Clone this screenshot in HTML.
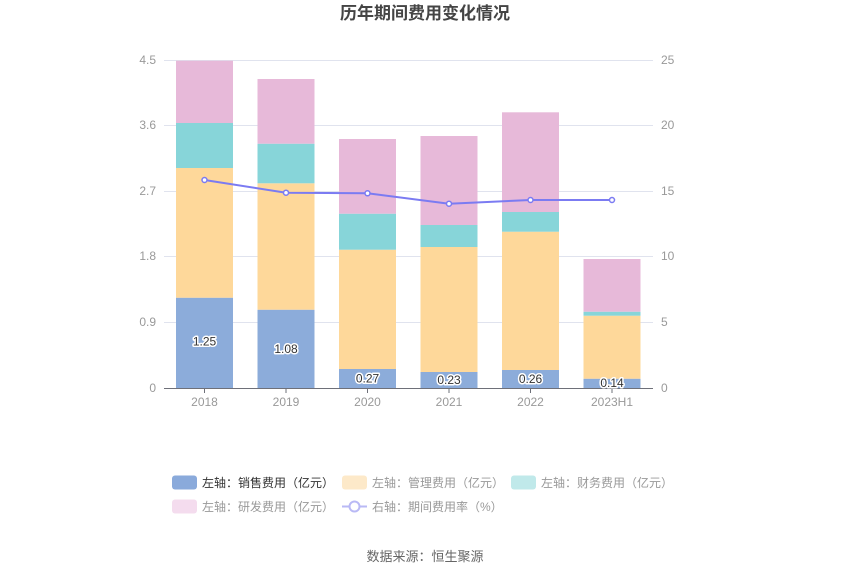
<!DOCTYPE html>
<html>
<head>
<meta charset="utf-8">
<style>
html,body{margin:0;padding:0;background:#fff;}
svg{display:block;}
text{font-family:"Liberation Sans","Noto Sans CJK SC",sans-serif;}
</style>
</head>
<body>
<svg width="850" height="575" viewBox="0 0 850 575" xmlns="http://www.w3.org/2000/svg">
<rect width="850" height="575" fill="#fff"/>
<text x="425" y="19" text-anchor="middle" font-size="17" font-weight="bold" fill="#444">历年期间费用变化情况</text>

<!-- grid -->
<g stroke="#e0e3ee" stroke-width="1">
<line x1="164" y1="60.5" x2="653" y2="60.5"/>
<line x1="164" y1="125.5" x2="653" y2="125.5"/>
<line x1="164" y1="191.5" x2="653" y2="191.5"/>
<line x1="164" y1="256.5" x2="653" y2="256.5"/>
<line x1="164" y1="322.5" x2="653" y2="322.5"/>
</g>

<!-- left labels -->
<g font-size="12" fill="#999" text-anchor="end">
<text x="156" y="64">4.5</text>
<text x="156" y="129">3.6</text>
<text x="156" y="195">2.7</text>
<text x="156" y="260">1.8</text>
<text x="156" y="326">0.9</text>
<text x="156" y="392">0</text>
</g>
<!-- right labels -->
<g font-size="12" fill="#999" text-anchor="start">
<text x="661" y="64">25</text>
<text x="661" y="129">20</text>
<text x="661" y="195">15</text>
<text x="661" y="260">10</text>
<text x="661" y="326">5</text>
<text x="661" y="392">0</text>
</g>

<!-- bars -->
<g>
<!-- 2018 -->
<rect x="176" y="297.7" width="57" height="90.3" fill="#8cacda"/>
<rect x="176" y="168" width="57" height="129.7" fill="#fed89a"/>
<rect x="176" y="123" width="57" height="45" fill="#87d5d9"/>
<rect x="176" y="60.7" width="57" height="62.3" fill="#e7b9d9"/>
<!-- 2019 -->
<rect x="257.5" y="309.7" width="57" height="78.3" fill="#8cacda"/>
<rect x="257.5" y="183.3" width="57" height="126.4" fill="#fed89a"/>
<rect x="257.5" y="143.7" width="57" height="39.6" fill="#87d5d9"/>
<rect x="257.5" y="79" width="57" height="64.7" fill="#e7b9d9"/>
<!-- 2020 -->
<rect x="339" y="369" width="57" height="19" fill="#8cacda"/>
<rect x="339" y="249.7" width="57" height="119.3" fill="#fed89a"/>
<rect x="339" y="213.7" width="57" height="36" fill="#87d5d9"/>
<rect x="339" y="139" width="57" height="74.7" fill="#e7b9d9"/>
<!-- 2021 -->
<rect x="420.5" y="372" width="57" height="16" fill="#8cacda"/>
<rect x="420.5" y="247" width="57" height="125" fill="#fed89a"/>
<rect x="420.5" y="225" width="57" height="22" fill="#87d5d9"/>
<rect x="420.5" y="136" width="57" height="89" fill="#e7b9d9"/>
<!-- 2022 -->
<rect x="502" y="370" width="57" height="18" fill="#8cacda"/>
<rect x="502" y="231.7" width="57" height="138.3" fill="#fed89a"/>
<rect x="502" y="212" width="57" height="19.7" fill="#87d5d9"/>
<rect x="502" y="112.3" width="57" height="99.7" fill="#e7b9d9"/>
<!-- 2023H1 -->
<rect x="583.5" y="378.7" width="57" height="9.3" fill="#8cacda"/>
<rect x="583.5" y="315.7" width="57" height="63" fill="#fed89a"/>
<rect x="583.5" y="311.7" width="57" height="4" fill="#87d5d9"/>
<rect x="583.5" y="259" width="57" height="52.7" fill="#e7b9d9"/>
</g>

<!-- axis -->
<line x1="164" y1="388.5" x2="653" y2="388.5" stroke="#6e7079" stroke-width="1"/>
<g stroke="#6e7079" stroke-width="1">
<line x1="204.5" y1="388" x2="204.5" y2="393"/>
<line x1="286" y1="388" x2="286" y2="393"/>
<line x1="367.5" y1="388" x2="367.5" y2="393"/>
<line x1="449" y1="388" x2="449" y2="393"/>
<line x1="530.5" y1="388" x2="530.5" y2="393"/>
<line x1="612" y1="388" x2="612" y2="393"/>
</g>
<g font-size="12" fill="#999" text-anchor="middle">
<text x="204.5" y="406">2018</text>
<text x="286" y="406">2019</text>
<text x="367.5" y="406">2020</text>
<text x="449" y="406">2021</text>
<text x="530.5" y="406">2022</text>
<text x="612" y="406">2023H1</text>
</g>

<!-- data labels -->
<g font-size="12" text-anchor="middle" fill="#333" stroke="#fff" stroke-width="3" paint-order="stroke" stroke-linejoin="round">
<text x="204.5" y="345.5">1.25</text>
<text x="286" y="353">1.08</text>
<text x="367.5" y="382.5">0.27</text>
<text x="449" y="384">0.23</text>
<text x="530.5" y="383">0.26</text>
<text x="612" y="387">0.14</text>
</g>

<!-- line -->
<polyline points="204.5,180 286,192.7 367.5,193.3 449,203.7 530.5,200 612,200" fill="none" stroke="#7b7bf2" stroke-width="2"/>
<g fill="#fff" stroke="#7b7bf2" stroke-width="1.5">
<circle cx="204.5" cy="180" r="2.5"/>
<circle cx="286" cy="192.7" r="2.5"/>
<circle cx="367.5" cy="193.3" r="2.5"/>
<circle cx="449" cy="203.7" r="2.5"/>
<circle cx="530.5" cy="200" r="2.5"/>
<circle cx="612" cy="200" r="2.5"/>
</g>

<!-- legend -->
<g font-size="12">
<rect x="172" y="475.5" width="25" height="14" rx="3" fill="#8aaadb"/>
<text x="202" y="487" fill="#333">左轴：销售费用（亿元）</text>
<rect x="342" y="475.5" width="25" height="14" rx="3" fill="#fde9c9"/>
<text x="372" y="487" fill="#999">左轴：管理费用（亿元）</text>
<rect x="511" y="475.5" width="25" height="14" rx="3" fill="#c0e9ea"/>
<text x="541" y="487" fill="#999">左轴：财务费用（亿元）</text>

<rect x="172" y="499.5" width="25" height="14" rx="3" fill="#f4dcee"/>
<text x="202" y="511" fill="#999">左轴：研发费用（亿元）</text>
<line x1="342" y1="506.5" x2="367" y2="506.5" stroke="#b9b9f5" stroke-width="2"/>
<circle cx="354.5" cy="506.5" r="5" fill="#fff" stroke="#b9b9f5" stroke-width="2"/>
<text x="372" y="511" fill="#999">右轴：期间费用率（%）</text>
</g>

<text x="425" y="561" text-anchor="middle" font-size="13" fill="#666">数据来源：恒生聚源</text>
</svg>
</body>
</html>
